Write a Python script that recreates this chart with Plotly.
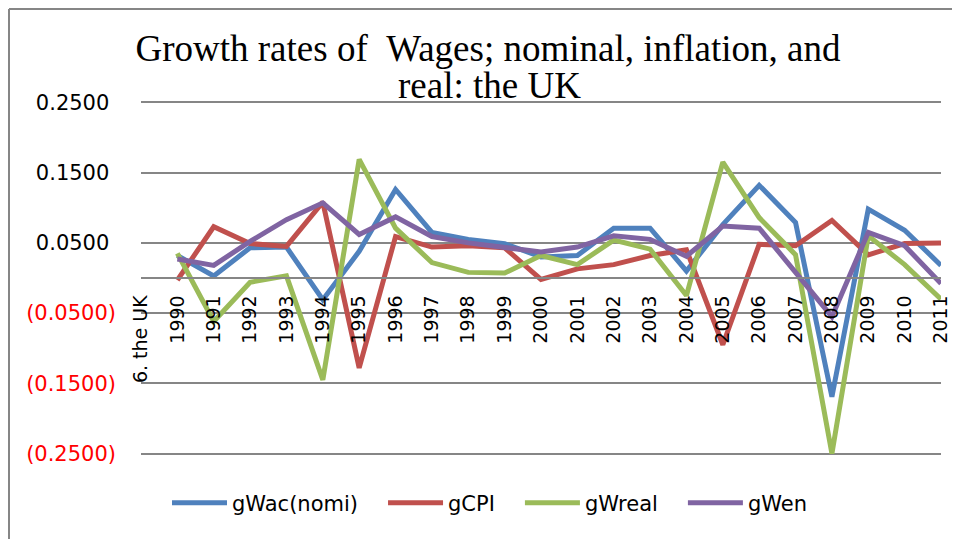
import plotly.graph_objects as go

categories = ["6. the UK", "1990", "1991", "1992", "1993", "1994", "1995", "1996", "1997",
              "1998", "1999", "2000", "2001", "2002", "2003", "2004", "2005", "2006",
              "2007", "2008", "2009", "2010", "2011"]

gWac_nomi = [None, 0.032, 0.003, 0.043, 0.044, -0.031, 0.038, 0.126, 0.065, 0.055, 0.049,
             0.030, 0.032, 0.071, 0.071, 0.010, 0.076, 0.132, 0.079, -0.169, 0.098, 0.068, 0.018]
gCPI = [None, -0.003, 0.073, 0.049, 0.045, 0.108, -0.128, 0.059, 0.044, 0.046, 0.043,
        -0.002, 0.013, 0.019, 0.032, 0.040, -0.095, 0.048, 0.046, 0.082, 0.033, 0.049, 0.050]
gWreal = [None, 0.035, -0.062, -0.006, 0.003, -0.145, 0.169, 0.071, 0.022, 0.008, 0.007,
          0.032, 0.019, 0.054, 0.041, -0.025, 0.165, 0.086, 0.033, -0.250, 0.060, 0.019, -0.030]
gWen = [None, 0.027, 0.018, 0.052, 0.083, 0.107, 0.062, 0.087, 0.059, 0.050, 0.043,
        0.037, 0.044, 0.060, 0.055, 0.031, 0.074, 0.071, 0.008, -0.055, 0.065, 0.046, -0.008]

series_names = ["gWac(nomi)", "gCPI", "gWreal", "gWen"]
series_colors = ["#4F81BD", "#C0504D", "#9BBB59", "#8064A2"]

y_tick_values = [0.25, 0.15, 0.05, -0.05, -0.15, -0.25]
y_tick_labels = ["0.2500", "0.1500", "0.0500", "(0.0500)", "(0.1500)", "(0.2500)"]

title_line1 = "Growth rates of \u00a0Wages; nominal, inflation, and"
title_line2 = "real: the UK"

FONT = "DejaVu Sans"
SERIF = "Liberation Serif"

fig = go.Figure()
for name, vals, col in zip(series_names, [gWac_nomi, gCPI, gWreal, gWen], series_colors):
    fig.add_trace(go.Scatter(x=categories, y=vals, name=name + "\u00a0" * 3, mode="lines",
                             line=dict(color=col, width=5), connectgaps=False))

tick_text = [f'<span style="color:#FF0000">{t}</span>' if t.startswith("(") else t + "\u00a0"
             for t in y_tick_labels]

# the page body has an 8px margin, so the figure occupies 952x531 from (8, 8)
W, H = 952, 531
L, R, T, B = 133, 19, 93, 84
ph = H - T - B
pw = W - L - R

fig.update_layout(
    width=W, height=H,
    margin=dict(l=L, r=R, t=T, b=B, autoexpand=False),
    paper_bgcolor="white", plot_bgcolor="white",
    font=dict(family=FONT, color="black"),
    title=dict(text=title_line1, font=dict(family=SERIF, size=37, color="black"),
               x=(480 - L) / pw, xref="paper", xanchor="center",
               y=1 - 40 / H, yref="container", yanchor="middle", automargin=False),
    showlegend=True,
    legend=dict(orientation="h", x=(159 - L) / pw, xanchor="left",
                y=(H - B - 495) / ph, yanchor="middle", itemwidth=55,
                font=dict(family=FONT, size=21, color="black"),
                bgcolor="rgba(0,0,0,0)"),
    xaxis=dict(type="category", anchor="free", position=0.5, automargin=False,
               showline=True, linecolor="#868686", linewidth=1.5,
               showgrid=False, zeroline=False, tickangle=-90,
               tickfont=dict(family=FONT, size=19, color="black"),
               ticks="", ticklabelstandoff=9),
    yaxis=dict(range=[-0.252, 0.252], tickvals=y_tick_values, ticktext=tick_text,
               showgrid=True, gridcolor="#868686", gridwidth=1.5, automargin=False,
               zeroline=False, showline=False, ticks="",
               tickfont=dict(family=FONT, size=21, color="black"),
               ticklabelstandoff=24),
)

fig.add_annotation(text=title_line2, xref="paper", yref="paper",
                   x=(481 - L) / pw, y=(H - B - 78) / ph, xanchor="center", yanchor="middle",
                   showarrow=False, font=dict(family=SERIF, size=37, color="black"))

# chart border (left and top edges visible in the reference)
bx = (1 - L) / pw
by = (H - B - 1) / ph
fig.add_shape(type="line", xref="paper", yref="paper",
              x0=bx, x1=bx, y0=(H - B - H - 5) / ph, y1=by,
              line=dict(color="#868686", width=2))
fig.add_shape(type="line", xref="paper", yref="paper",
              x0=bx, x1=(W + 5 - L) / pw, y0=by, y1=by,
              line=dict(color="#868686", width=2))

fig.write_html("out.html")
